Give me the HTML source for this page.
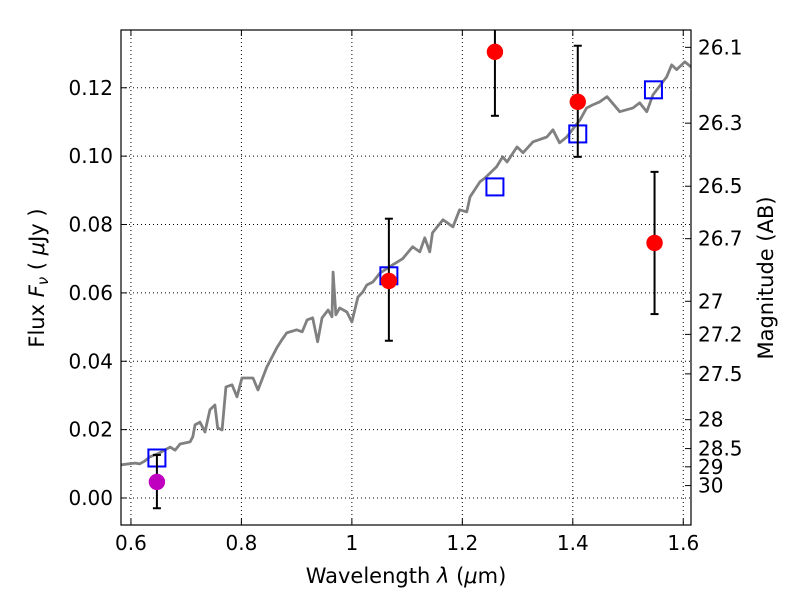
<!DOCTYPE html>
<html><head><meta charset="utf-8"><style>
html,body{margin:0;padding:0;background:#fff;}
svg text{font-family:"DejaVu Sans","Liberation Sans",sans-serif;fill:#000;}
</style></head><body>
<svg id="chart" width="800" height="600" viewBox="0 0 800 600" xmlns="http://www.w3.org/2000/svg">
<rect width="800" height="600" fill="#fff"/>
<g id="grid"></g>
<g id="spec"></g>
<g id="marks"></g>
<g id="axes"></g>
<text x="406" y="583" font-size="21" text-anchor="middle">Wavelength  <tspan font-style="italic">λ</tspan> (<tspan font-style="italic">μ</tspan>m)</text>
<text transform="translate(44,278) rotate(-90)" font-size="21" text-anchor="middle">Flux  <tspan font-style="italic">F<tspan font-size="15" dy="4">ν</tspan></tspan><tspan dy="-4">  (  </tspan><tspan font-style="italic">μ</tspan>Jy )</text>
<text transform="translate(773,278) rotate(-90)" font-size="21" text-anchor="middle">Magnitude (AB)</text>
</svg>
<script>
const xTicks=[0.6,0.8,1.0,1.2,1.4,1.6];
const xTickLabels=["0.6","0.8","1","1.2","1.4","1.6"];
const yTicks=[0,0.02,0.04,0.06,0.08,0.10,0.12];
const yTickLabels=["0.00","0.02","0.04","0.06","0.08","0.10","0.12"];
const magTicks=[26.1,26.3,26.5,26.7,27,27.2,27.5,28,28.5,29,30];
const magLabels=["26.1","26.3","26.5","26.7","27","27.2","27.5","28","28.5","29","30"];
const specLam=[0.582,0.607,0.616,0.625,0.634,0.652,0.671,0.680,0.689,0.707,0.712,0.716,0.725,0.734,0.743,0.752,0.757,0.765,0.772,0.783,0.792,0.801,0.821,0.830,0.846,0.864,0.873,0.882,0.900,0.910,0.919,0.929,0.938,0.946,0.957,0.964,0.966,0.971,0.978,0.991,1.000,1.011,1.020,1.027,1.038,1.051,1.074,1.092,1.110,1.123,1.132,1.141,1.146,1.165,1.183,1.195,1.208,1.214,1.232,1.241,1.262,1.273,1.281,1.299,1.310,1.328,1.353,1.364,1.376,1.389,1.413,1.425,1.436,1.449,1.462,1.485,1.509,1.521,1.534,1.545,1.570,1.579,1.588,1.603,1.614];
const specFlux=[0.0097,0.0102,0.0100,0.0108,0.0120,0.0132,0.0149,0.0140,0.0158,0.0164,0.0179,0.0214,0.0222,0.0193,0.0258,0.0272,0.0205,0.0199,0.0325,0.0331,0.0296,0.0351,0.0351,0.0316,0.0383,0.0439,0.0462,0.0483,0.0492,0.0486,0.0521,0.0527,0.0457,0.0527,0.0550,0.0530,0.0661,0.0536,0.0556,0.0544,0.0515,0.0588,0.0603,0.0623,0.0632,0.0658,0.0682,0.0700,0.0735,0.0720,0.0761,0.0720,0.0776,0.0814,0.0793,0.0843,0.0837,0.0881,0.0925,0.0936,0.0969,0.0998,0.0983,0.1027,0.1010,0.1042,0.1056,0.1077,0.1039,0.1056,0.1106,0.1141,0.1150,0.1159,0.1174,0.1130,0.1141,0.1156,0.1130,0.1179,0.1232,0.1267,0.1253,0.1276,0.1261];
const obsLam=[1.067,1.259,1.409,1.548];
const obsFlux=[0.0635,0.1305,0.1159,0.0746];
const obsErrLo=[0.0175,0.0187,0.0161,0.0208];
const obsErrHi=[0.0182,0.0200,0.0164,0.0208];
const limLam=[0.647];const limFlux=[0.0047];const limErrLo=[0.0077];const limErrHi=[0.0079];
const modLam=[0.647,1.067,1.259,1.409,1.546];
const modFlux=[0.0117,0.065,0.091,0.1065,0.1194];

const L=121,R=691,T=30,B=525;
const xmin=0.582,xmax=1.614,ymin=-0.0079,ymax=0.1369;
const X=v=>L+(v-xmin)/(xmax-xmin)*(R-L);
const Y=v=>B-(v-ymin)/(ymax-ymin)*(B-T);
const NS="http://www.w3.org/2000/svg";
function mk(tag,parent,attrs){const e=document.createElementNS(NS,tag);for(const k in attrs)e.setAttribute(k,attrs[k]);parent.appendChild(e);return e;}
const grid=document.getElementById('grid'),axes=document.getElementById('axes'),spec=document.getElementById('spec'),marks=document.getElementById('marks');
xTicks.forEach((t,i)=>{const x=X(t);
 let g=mk('line',grid,{x1:x,x2:x,y1:T,y2:B,stroke:'#000','stroke-width':1,'stroke-dasharray':'1,3'});
 
 mk('line',axes,{x1:x,x2:x,y1:B,y2:B-6,stroke:'#000'});mk('line',axes,{x1:x,x2:x,y1:T,y2:T+6,stroke:'#000'});
 let tx=mk('text',axes,{x:x,y:B+25,'font-size':20,'text-anchor':'middle'});tx.textContent=xTickLabels[i];
 });
yTicks.forEach((t,i)=>{const y=Y(t);
 let g=mk('line',grid,{x1:L,x2:R,y1:y,y2:y,stroke:'#000','stroke-width':1,'stroke-dasharray':'1,3'});
 
 mk('line',axes,{x1:L,x2:L+6,y1:y,y2:y,stroke:'#000'});
 let tx=mk('text',axes,{x:L-8,y:y+7,'font-size':20,'text-anchor':'end'});tx.textContent=yTickLabels[i];
 });
magTicks.forEach((m,i)=>{const f=Math.pow(10,(23.9-m)/2.5);const y=Y(f);
 mk('line',axes,{x1:R,x2:R-6,y1:y,y2:y,stroke:'#000'});
 let tx=mk('text',axes,{x:R+7,y:y+7,'font-size':20,'text-anchor':'start'});tx.textContent=magLabels[i];
 });
let p=mk('polyline',spec,{points:specLam.map((l,i)=>X(l)+','+Y(specFlux[i])).join(' '),fill:'none',stroke:'#808080','stroke-width':2.8,'stroke-linejoin':'round'});

function err(l,f,lo,hi){const x=X(l);const y1=Y(f-lo),y2=Y(f+hi);
 mk('line',marks,{x1:x,x2:x,y1:y1,y2:y2,stroke:'#000','stroke-width':2});
 mk('line',marks,{x1:x-4,x2:x+4,y1:y1,y2:y1,stroke:'#000','stroke-width':2});
 mk('line',marks,{x1:x-4,x2:x+4,y1:y2,y2:y2,stroke:'#000','stroke-width':2});}
modLam.forEach((l,i)=>{let r=mk('rect',marks,{x:X(l)-8.5,y:Y(modFlux[i])-8.5,width:17,height:17,fill:'none',stroke:'#0000ff','stroke-width':2});
 });
limLam.forEach((l,i)=>{err(l,limFlux[i],limErrLo[i],limErrHi[i]);let c=mk('circle',marks,{cx:X(l),cy:Y(limFlux[i]),r:8.2,fill:'#bf00bf'});
 });
obsLam.forEach((l,i)=>{err(l,obsFlux[i],obsErrLo[i],obsErrHi[i]);let c=mk('circle',marks,{cx:X(l),cy:Y(obsFlux[i]),r:8.2,fill:'#ff0000'});
 });
let fr=mk('rect',axes,{x:L,y:T,width:R-L,height:B-T,fill:'none',stroke:'#000','stroke-width':1.2});

const cp=mk('clipPath',document.getElementById('chart'),{id:'c'});mk('rect',cp,{x:L,y:T,width:R-L,height:B-T});
marks.setAttribute('clip-path','url(#c)');spec.setAttribute('clip-path','url(#c)');
</script>
</body></html>
